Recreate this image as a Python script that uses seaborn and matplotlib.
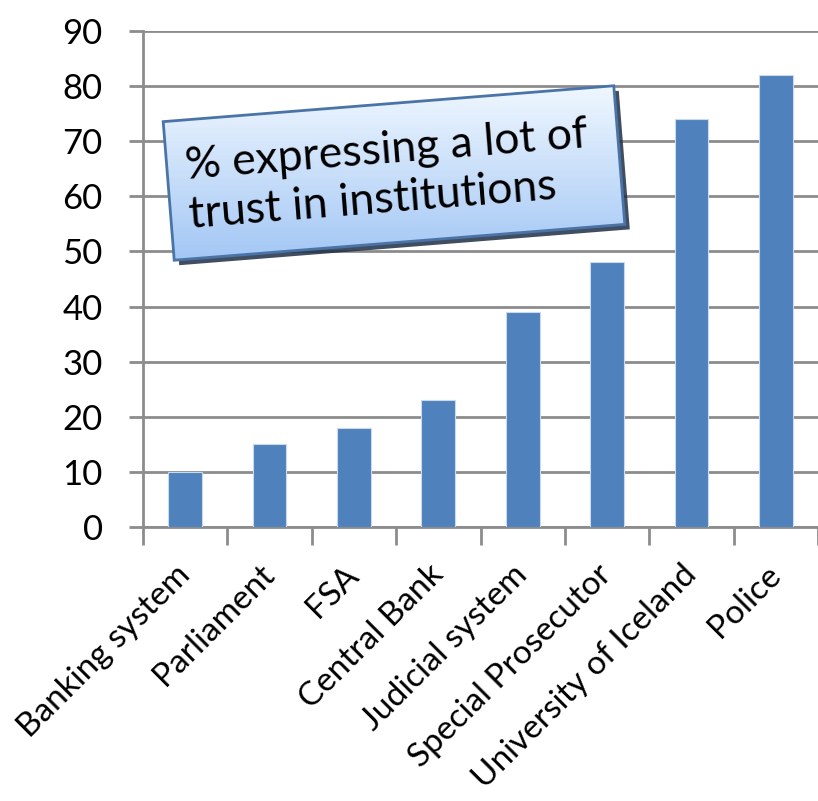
import numpy as np
import pandas as pd
import matplotlib
matplotlib.use("Agg")
import matplotlib.pyplot as plt
from matplotlib.patches import Polygon
from matplotlib.ticker import FixedLocator
import seaborn as sns

institutions = ["Banking system", "Parliament", "FSA", "Central Bank",
                "Judicial system", "Special Prosecutor",
                "University of Iceland", "Police"]
trust_pct = [10, 15, 18, 23, 39, 48, 74, 82]
y_ticks = [0, 10, 20, 30, 40, 50, 60, 70, 80, 90]
title_text = "% expressing a lot of\ntrust in institutions"

sns.set_theme(style="white")
plt.rcParams["font.family"] = ["Lato", "DejaVu Sans"]

df = pd.DataFrame({"institution": institutions, "trust": trust_pct})

W, H = 818, 801
fig = plt.figure(figsize=(W / 100, H / 100), dpi=100)
ax = fig.add_axes([143 / W, (H - 527) / H, 1 - 143 / W, (527 - 31) / H])

sns.barplot(data=df, x="institution", y="trust", color="#4F81BD",
            saturation=1, width=0.4, ax=ax, zorder=3,
            edgecolor="#c9d9ee", linewidth=0.8)

ax.set_ylim(0, 90)
ax.set_xlim(-0.5, len(institutions) - 0.5)
ax.set_yticks(y_ticks)
ax.set_yticklabels([str(t) for t in y_ticks], fontsize=25)
ax.yaxis.grid(True, color="#8c8c8c", linewidth=2, zorder=0)
ax.set_axisbelow(True)
ax.set_xlabel("")
ax.set_ylabel("")

for side in ("top", "right"):
    ax.spines[side].set_visible(False)
for side in ("left", "bottom"):
    ax.spines[side].set_color("#8c8c8c")
    ax.spines[side].set_linewidth(2)

ax.tick_params(axis="y", which="major", direction="out", length=10,
               width=2, color="#8c8c8c", left=True, pad=19, labelcolor="black")
ax.set_xticks(range(len(institutions)))
ax.set_xticklabels(institutions, rotation=45, ha="right", va="center",
                   rotation_mode="anchor", fontsize=24)
ax.tick_params(axis="x", which="major", length=0, pad=31, labelcolor="black")
ax.xaxis.set_minor_locator(FixedLocator(np.arange(-0.5, len(institutions), 1.0)))
ax.tick_params(axis="x", which="minor", direction="out", length=13,
               width=2, color="#8c8c8c", bottom=True)

# Tilted caption box with a soft blue gradient
ang_deg = 4.55
ang = np.deg2rad(ang_deg)
cx, cy = 394, H - 173
w, h = 452, 139
corners = np.array([[-w / 2, -h / 2], [w / 2, -h / 2], [w / 2, h / 2], [-w / 2, h / 2]])
rot = np.array([[np.cos(ang), -np.sin(ang)], [np.sin(ang), np.cos(ang)]])
pts = corners @ rot.T + [cx, cy]


def to_fig(p):
    return np.column_stack([p[:, 0] / W, p[:, 1] / H])


over = fig.add_axes([0, 0, 1, 1], zorder=9)
over.set_axis_off()
over.set_xlim(0, 1)
over.set_ylim(0, 1)

shadow = Polygon(to_fig(pts + [5, -5]), closed=True, transform=fig.transFigure,
                 facecolor="#1f2f45", edgecolor="none", alpha=0.85, zorder=1)
over.add_patch(shadow)

grad = np.linspace(0, 1, 256).reshape(-1, 1)
c_top = np.array([0.94, 0.97, 1.0])
c_bot = np.array([0.64, 0.78, 0.96])
img = c_top[None, None, :] * (1 - grad[..., None]) + c_bot[None, None, :] * grad[..., None]
ymin, ymax = pts[:, 1].min() / H, pts[:, 1].max() / H
im = over.imshow(img, extent=[0, 1, ymin, ymax], origin="upper",
                 aspect="auto", transform=fig.transFigure, zorder=2)
clip = Polygon(to_fig(pts), closed=True, transform=fig.transFigure)
im.set_clip_path(clip)

box = Polygon(to_fig(pts), closed=True, transform=fig.transFigure,
              facecolor="none", edgecolor="#4a74a8", linewidth=2, zorder=3)
over.add_patch(box)

over.text((cx - 6) / W, (cy - 2) / H, title_text, transform=fig.transFigure,
          rotation=ang_deg, rotation_mode="anchor", ha="center", va="center",
          fontsize=32, color="black", linespacing=1.25, zorder=4,
          multialignment="left")

fig.savefig("out.png", dpi=100)
